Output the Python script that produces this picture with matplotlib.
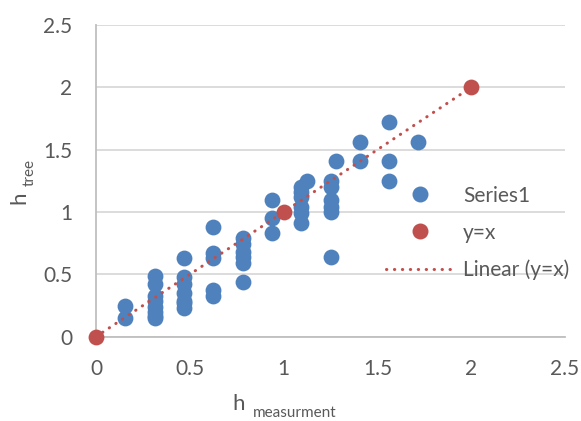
import numpy as np
import matplotlib
matplotlib.use("Agg")
import matplotlib.pyplot as plt
from matplotlib.lines import Line2D

plt.rcParams['font.family'] = ['Lato', 'DejaVu Sans']

# measured heights (x) and tree heights (y), read column by column
x_cols = [0.156, 0.3125, 0.469, 0.625, 0.781, 0.938, 1.094, 1.125, 1.25, 1.281, 1.406, 1.563, 1.719]
y_cols = [
    [0.25, 0.15],
    [0.49, 0.42, 0.33, 0.29, 0.24, 0.20, 0.17, 0.15],
    [0.63, 0.48, 0.42, 0.35, 0.29, 0.27, 0.23],
    [0.88, 0.67, 0.63, 0.375, 0.33],
    [0.79, 0.74, 0.68, 0.64, 0.59, 0.44],
    [1.10, 0.95, 0.83],
    [1.20, 1.16, 1.12, 1.04, 0.99, 0.91],
    [1.25],
    [1.25, 1.20, 1.10, 1.04, 1.00, 0.64],
    [1.41],
    [1.56, 1.41],
    [1.72, 1.41, 1.25],
    [1.56],
]
series1_x = [x for x, ys in zip(x_cols, y_cols) for _ in ys]
series1_y = [y for ys in y_cols for y in ys]

yx_x = [0, 1, 2]
yx_y = [0, 1, 2]

blue = '#4F81BD'
red = '#C0504D'
grey_txt = '#595959'

fig = plt.figure(figsize=(5.81, 4.21), dpi=100)
ax = fig.add_axes([96 / 581, 1 - 336.7 / 421, (565 - 96) / 581, (336.7 - 25) / 421])

ax.scatter(series1_x, series1_y, s=130, color=blue, zorder=3, linewidths=0, clip_on=False)

# linear trendline through the y=x points
k, b = np.polyfit(yx_x, yx_y, 1)
tx = np.array([min(yx_x), max(yx_x)])
ax.plot(tx, k * tx + b, color=red, lw=2.2, linestyle=(0, (0.1, 2.5)),
        dash_capstyle='round', zorder=4)
ax.scatter(yx_x, yx_y, s=130, color=red, zorder=5, linewidths=0, clip_on=False)

ax.set_xlim(0, 2.5)
ax.set_ylim(0, 2.5)
ticks = [0, 0.5, 1, 1.5, 2, 2.5]
ax.set_xticks(ticks)
ax.set_yticks(ticks)
ax.set_xticklabels(['0', '0.5', '1', '1.5', '2', '2.5'])
ax.set_yticklabels(['0', '0.5', '1', '1.5', '2', '2.5'])
ax.tick_params(length=0, labelsize=15, colors=grey_txt)
ax.tick_params(axis='y', pad=17)
ax.tick_params(axis='x', pad=16)

ax.grid(axis='y', color='#D9D9D9', lw=1.3)
ax.set_axisbelow(True)
for side in ['top', 'right']:
    ax.spines[side].set_visible(False)
for side in ['left', 'bottom']:
    ax.spines[side].set_color('#BFBFBF')
    ax.spines[side].set_linewidth(1.3)

# axis titles with subscripts
fig.text(239 / 581, 1 - 404 / 421, 'h', fontsize=16, color=grey_txt, ha='center', va='center')
fig.text(253 / 581, 1 - 413 / 421, 'measurment', fontsize=11, color=grey_txt, ha='left', va='center')
fig.text(19 / 581, 1 - 198 / 421, 'h', fontsize=16, color=grey_txt, rotation=90, ha='center', va='center')
fig.text(30 / 581, 1 - 172 / 421, 'tree', fontsize=11, color=grey_txt, rotation=90, ha='center', va='center')

handles = [
    Line2D([], [], ls='none', marker='o', ms=11.5, color=blue, mec='none'),
    Line2D([], [], ls='none', marker='o', ms=11.5, color=red, mec='none'),
    Line2D([], [], color=red, lw=2.2, linestyle=(0, (0.1, 2.5)), dash_capstyle='round'),
]
leg = fig.legend(handles, ['Series1', 'y=x', 'Linear (y=x)'], loc='center left',
                 bbox_to_anchor=(386 / 581, 1 - 233 / 421), frameon=False,
                 fontsize=15, handlelength=3.3, handletextpad=0.4, labelspacing=0.82,
                 borderpad=0, borderaxespad=0)
for t in leg.get_texts():
    t.set_color(grey_txt)

fig.savefig('out.png', dpi=100)
